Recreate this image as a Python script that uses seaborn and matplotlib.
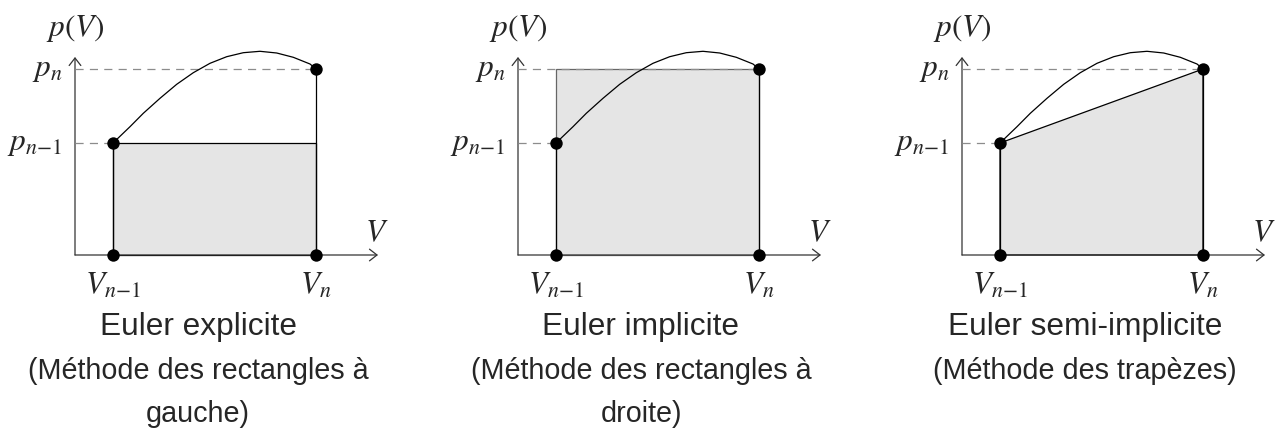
import numpy as np
import pandas as pd
import matplotlib
matplotlib.use("Agg")
import matplotlib.pyplot as plt
import seaborn as sns

# Valeurs (unites arbitraires, origine = intersection des axes)
V_prev, V_next = 3.8, 24.1
p_prev, p_next = 11.2, 18.6
axis_x_end, axis_y_end = 30.3, 19.8

# Courbe p(V) entre les deux points
curve_v = [3.8, 5.5, 6.83, 8.5, 10.17, 11.83, 13.5, 15.17, 16.83, 18.5, 20.17, 21.83, 23.5, 24.1]
curve_p = [11.2, 12.83, 14.17, 15.67, 17.07, 18.23, 19.17, 19.83, 20.23, 20.37, 20.2, 19.77, 19.1, 18.6]

methods = ["explicite", "implicite", "semi"]
titles = [
    ["Euler explicite", "(Méthode des rectangles à", "gauche)"],
    ["Euler implicite", "(Méthode des rectangles à", "droite)"],
    ["Euler semi-implicite", "(Méthode des trapèzes)"],
]

sns.set_theme(style="white")
plt.rcParams["font.family"] = ["Liberation Sans", "DejaVu Sans"]
plt.rcParams["mathtext.fontset"] = "stix"

W, H = 1279, 429
fig = plt.figure(figsize=(W / 100, H / 100), dpi=100)

origins_px = [75, 518, 962]     # position de l'axe vertical (px)
origin_y_px = 255               # position de l'axe horizontal (px depuis le haut)
text_centers = [198, 641, 1085]
baselines = [335, 379, 422]
title_sizes = [22.8, 20.7, 20.7]

curve_df = pd.DataFrame({"V": curve_v, "p": curve_p})
pts_df = pd.DataFrame({"V": [V_prev, V_next, V_prev, V_next],
                       "p": [0, 0, p_prev, p_next]})

fill_col = "#e5e5e5"
dash_col = "#8c8c8c"
lw = 0.9

for i, m in enumerate(methods):
    ox = origins_px[i]
    # axes de 400x280 px, 10 px par unite
    left = (ox - 80) / W
    bottom = (H - (origin_y_px + 50)) / H
    ax = fig.add_axes([left, bottom, 400 / W, 280 / H])
    ax.set_xlim(-8, 32)
    ax.set_ylim(-5, 23)
    ax.axis("off")

    # zone grisee
    if m == "explicite":
        ax.fill([V_prev, V_prev, V_next, V_next], [0, p_prev, p_prev, 0],
                facecolor=fill_col, edgecolor="black", lw=lw, zorder=1)
    elif m == "implicite":
        ax.fill([V_prev, V_prev, V_next, V_next], [0, p_next, p_next, 0],
                facecolor=fill_col, edgecolor="#666666", lw=lw, zorder=1)
    else:
        ax.fill([V_prev, V_prev, V_next, V_next], [0, p_prev, p_next, 0],
                facecolor=fill_col, edgecolor="black", lw=lw, zorder=1)

    # axes fleches
    for end in [(axis_x_end, 0), (0, axis_y_end)]:
        ax.annotate("", xy=end, xytext=(0, 0),
                    arrowprops=dict(arrowstyle="->,head_length=0.45,head_width=0.35",
                                    lw=lw, color="#333333", shrinkA=0, shrinkB=0),
                    zorder=2)

    # pointilles
    ax.plot([0, V_prev], [p_prev, p_prev], color=dash_col, lw=lw,
            dashes=(6.5, 5), zorder=2)
    ax.plot([0, V_next], [p_next, p_next], color=dash_col, lw=lw,
            dashes=(6.5, 5), zorder=2)

    # verticales
    ax.plot([V_prev, V_prev], [0, p_prev], color="black", lw=lw, zorder=3)
    ax.plot([V_next, V_next], [0, p_next], color="black", lw=lw, zorder=3)

    # courbe
    sns.lineplot(data=curve_df, x="V", y="p", ax=ax, sort=False, estimator=None,
                 color="black", lw=lw, zorder=3)

    # points
    sns.scatterplot(data=pts_df, x="V", y="p", ax=ax, s=80, color="black",
                    edgecolor="black", linewidth=0, zorder=4, clip_on=False)
    ax.set_xlabel("")
    ax.set_ylabel("")
    ax.axis("off")

    # etiquettes mathematiques
    fs = 22.5
    ax.text(0, 21.9, r"$p(V)$", ha="center", va="baseline", fontsize=fs)
    ax.text(-1.3, p_next, r"$p_n$", ha="right", va="center", fontsize=fs)
    ax.text(-1.3, p_prev, r"$p_{n{-}1}$", ha="right", va="center", fontsize=fs)
    ax.text(V_prev, -1.6, r"$V_{n{-}1}$", ha="center", va="top", fontsize=fs)
    ax.text(V_next, -1.6, r"$V_n$", ha="center", va="top", fontsize=fs)
    ax.text(30.2, 2.2, r"$V$", ha="center", va="center", fontsize=fs)

    # legende sous le graphe
    for j, line in enumerate(titles[i]):
        fig.text(text_centers[i] / W, 1 - baselines[j] / H, line,
                 ha="center", va="baseline", fontsize=title_sizes[j])

fig.savefig("out.png", dpi=100)
